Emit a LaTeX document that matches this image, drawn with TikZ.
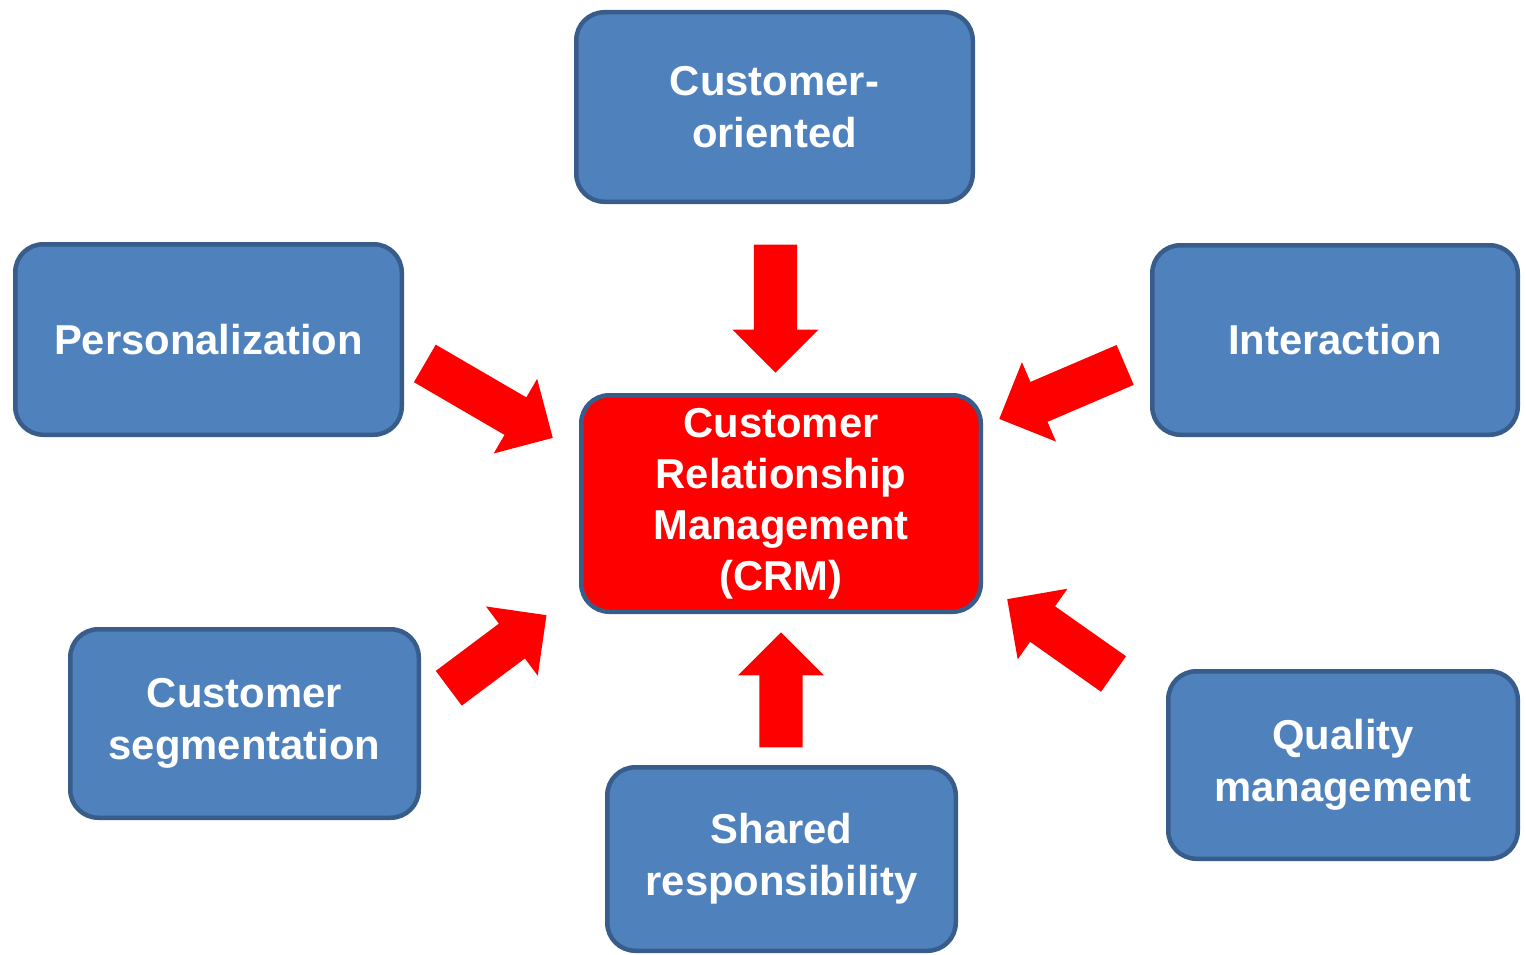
\documentclass[tikz,border=0pt]{standalone}
\usepackage{fontspec}
\setmainfont{Liberation Sans}
\usetikzlibrary{shapes.arrows}
\definecolor{boxblue}{HTML}{4F81BD}
\definecolor{boxedge}{HTML}{385D8A}
\definecolor{crmred}{HTML}{FF0000}
\begin{document}
\begin{tikzpicture}[x=1pt,y=-1pt,
  topic/.style={draw=boxedge, line width=4.5pt, rounded corners=28pt,
    fill=boxblue, text=white, align=center, inner sep=0pt,
    font=\bfseries\fontsize{41.8}{52}\selectfont},
  core/.style={topic, fill=crmred, font=\bfseries\fontsize{41.8}{51}\selectfont},
  blockarrow/.style={single arrow, fill=crmred, draw=none,
    inner xsep=0pt, inner ysep=21.5pt,
    minimum width=86pt, single arrow head extend=21.5pt,
    single arrow tip angle=90, anchor=tip}
]
\useasboundingbox (0,0) rectangle (1526,955);

% surrounding topics
\node[topic, minimum width=396.5pt, minimum height=189.5pt] (oriented) at (774.5,107) {Customer-\\oriented};
\node[topic, minimum width=386.5pt, minimum height=190.5pt] (personal) at (208.5,339.5) {Personalization};
\node[topic, minimum width=365.5pt, minimum height=189.5pt] (interact) at (1335,340) {Interaction};
\node[topic, minimum width=348.5pt, minimum height=188.5pt] (segment) at (244.5,723.5) {Customer\\segmentation};
\node[topic, minimum width=348.5pt, minimum height=183.5pt] (shared) at (781.5,859) {Shared\\responsibility};
\node[topic, minimum width=349.5pt, minimum height=187.5pt] (quality) at (1343,765) {Quality\\management};

% central concept
\node[core, minimum width=399.5pt, minimum height=216.5pt] (crm) at (781,503.5) {Customer\\Relationship\\Management\\(CRM)};

% block arrows, each placed by its tip next to the centre box
\node[blockarrow, minimum height=128pt, rotate=-90] (aoriented) at (775.5,373) {};
\node[blockarrow, minimum height=115pt, rotate=90] (ashared) at (781,632) {};
\node[blockarrow, minimum height=148pt, rotate=-30.2] (apersonal) at (553,438) {};
\node[blockarrow, minimum height=137pt, rotate=-156.8] (ainteract) at (999,419) {};
\node[blockarrow, minimum height=122pt, rotate=36.8] (asegment) at (546.7,615) {};
\node[blockarrow, minimum height=130pt, rotate=144.85] (aquality) at (1007,599) {};
\end{tikzpicture}
\end{document}
